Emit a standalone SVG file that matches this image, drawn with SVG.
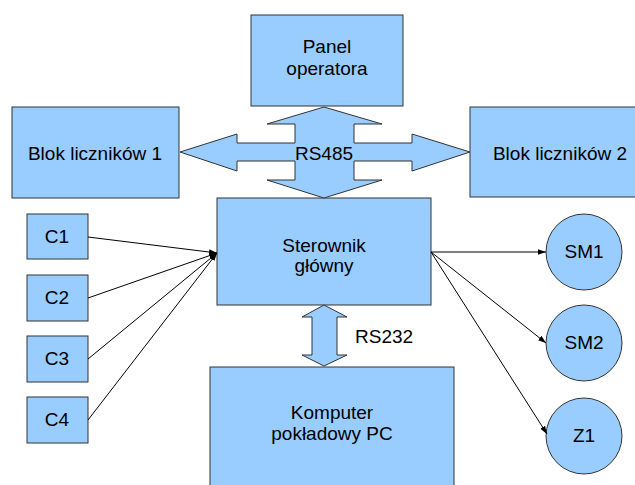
<svg xmlns="http://www.w3.org/2000/svg" width="635" height="485" viewBox="0 0 635 485">
<defs>
<style>
.box{fill:#99ccff;stroke:#333;stroke-width:1}
.t{font-family:"Liberation Sans",Arial,sans-serif;font-size:19px;fill:#000;text-anchor:middle}
.tl{font-family:"Liberation Sans",Arial,sans-serif;font-size:19px;fill:#000}
.ln{stroke:#000;stroke-width:1;fill:none;marker-end:url(#ah)}
</style>
<marker id="ah" viewBox="0 0 10 10" refX="10" refY="5" markerWidth="8" markerHeight="8" markerUnits="userSpaceOnUse" orient="auto">
<path d="M0,1.5 L10,5 L0,8.5 z" fill="#000"/>
</marker>
</defs>
<rect width="635" height="485" fill="#fff"/>
<g id="panel"><rect class="box" x="251" y="15" width="152" height="91"/><text class="t" x="327" y="53">Panel</text><text class="t" x="327" y="75">operatora</text></g>
<g id="blok1"><rect class="box" x="12" y="107" width="167" height="91"/><text class="t" x="95" y="160">Blok liczników 1</text></g>
<g id="blok2"><rect class="box" x="470" y="107" width="180" height="90"/><text class="t" x="560" y="160">Blok liczników 2</text></g>
<g id="sterownik"><rect class="box" x="217" y="198" width="214" height="107"/><text class="t" x="324" y="252">Sterownik</text><text class="t" x="324" y="272">główny</text></g>
<g id="komputer"><rect class="box" x="210" y="367" width="244" height="130"/><text class="t" x="332" y="419">Komputer</text><text class="t" x="332" y="440">pokładowy PC</text></g>
<g id="c1"><rect class="box" x="27" y="214" width="61" height="45"/><text class="t" x="57" y="243">C1</text></g>
<g id="c2"><rect class="box" x="27" y="275" width="61" height="46"/><text class="t" x="57" y="304">C2</text></g>
<g id="c3"><rect class="box" x="27" y="336" width="61" height="46"/><text class="t" x="57" y="365">C3</text></g>
<g id="c4"><rect class="box" x="27" y="397" width="61" height="46"/><text class="t" x="57" y="426">C4</text></g>
<g id="sm1"><circle class="box" cx="584" cy="252" r="38"/><text class="t" x="584" y="258">SM1</text></g>
<g id="sm2"><circle class="box" cx="584" cy="343" r="38"/><text class="t" x="584" y="349">SM2</text></g>
<g id="z1"><circle class="box" cx="584" cy="436" r="38"/><text class="t" x="584" y="442">Z1</text></g>
<g id="connectors">
<path class="box" d="M324,107 L382,124 L354,124 L354,143 L412,143 L412,134 L470,152 L412,171 L412,161 L354,161 L354,180 L382,180 L324,198 L267,180 L295,180 L295,161 L237,161 L237,171 L180,152 L237,134 L237,143 L295,143 L295,124 L267,124 z"/>
<text class="t" x="324" y="160">RS485</text>
<path class="box" d="M324,305 L347,317 L337,317 L337,355 L347,355 L324,366 L302,355 L312,355 L312,317 L302,317 z"/>
<text class="tl" x="355" y="343">RS232</text>
<line class="ln" x1="88" y1="237" x2="217" y2="253"/>
<line class="ln" x1="88" y1="298" x2="217" y2="253"/>
<line class="ln" x1="88" y1="359" x2="217" y2="253"/>
<line class="ln" x1="88" y1="420" x2="217" y2="253"/>
<line class="ln" x1="431" y1="252" x2="546" y2="252"/>
<line class="ln" x1="431" y1="252" x2="546" y2="343"/>
<line class="ln" x1="431" y1="252" x2="547" y2="434"/>
</g>
</svg>
